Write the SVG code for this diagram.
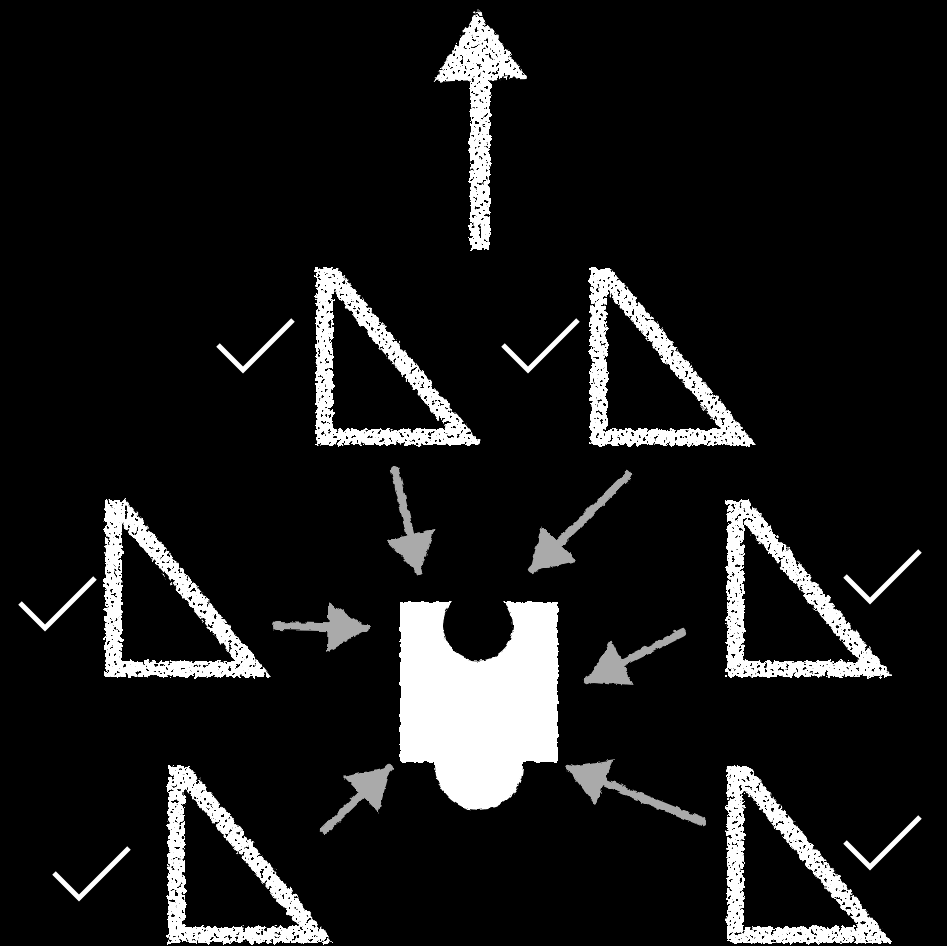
<svg xmlns="http://www.w3.org/2000/svg" xmlns:xlink="http://www.w3.org/1999/xlink" width="947" height="946" viewBox="0 0 947 946">
  <style>
    .chalk { fill: #ffffff; fill-rule: evenodd; }
    .check { fill: none; stroke: #ffffff; stroke-width: 5; stroke-linecap: butt; stroke-linejoin: miter; }
    .conn { stroke: #aaaaaa; stroke-width: 8; stroke-linecap: round; fill: none; }
  </style>
  <defs>
    <filter id="rough" x="-10%" y="-10%" width="120%" height="120%">
      <feTurbulence type="fractalNoise" baseFrequency="0.18" numOctaves="2" seed="3" result="n"/>
      <feDisplacementMap in="SourceGraphic" in2="n" scale="7" xChannelSelector="R" yChannelSelector="G" result="d"/>
      <feTurbulence type="fractalNoise" baseFrequency="0.28" numOctaves="2" seed="9" result="n2"/>
      <feColorMatrix in="n2" type="matrix" values="0 0 0 0 0  0 0 0 0 0  0 0 0 0 0  -20 0 0 0 13.6" result="mask"/>
      <feComposite in="d" in2="mask" operator="in"/>
    </filter>
    <filter id="soft" x="-10%" y="-10%" width="120%" height="120%">
      <feTurbulence type="fractalNoise" baseFrequency="0.15" numOctaves="2" seed="5" result="n"/>
      <feDisplacementMap in="SourceGraphic" in2="n" scale="5" xChannelSelector="R" yChannelSelector="G"/>
    </filter>
    <path id="tri" class="chalk" d="M0,0 L21,0 L166,177 L0,177 Z M17,23 L17,161 L131,161 Z"/>
    <polyline id="tick" class="check" points="0,25 25,50 75,0"/>
    <marker id="head" markerUnits="userSpaceOnUse" markerWidth="42" markerHeight="50" viewBox="0 0 40 48" refX="37" refY="24" orient="auto">
      <path d="M0,0 L40,24 L0,48 Z" fill="#aaaaaa"/>
    </marker>
  </defs>

  <rect x="0" y="0" width="947" height="946" fill="#000000"/>

  <g id="up-arrow" filter="url(#rough)">
    <polygon class="chalk" points="478,10 527,78 432,82"/>
    <rect class="chalk" x="470" y="74" width="20" height="176"/>
  </g>

  <g id="triangle-1" filter="url(#rough)"><use xlink:href="#tri" href="#tri" transform="translate(316,268)"/></g>
  <g id="triangle-2" filter="url(#rough)"><use xlink:href="#tri" href="#tri" transform="translate(590,268)"/></g>
  <g id="triangle-3" filter="url(#rough)"><use xlink:href="#tri" href="#tri" transform="translate(105,500)"/></g>
  <g id="triangle-4" filter="url(#rough)"><use xlink:href="#tri" href="#tri" transform="translate(727,500)"/></g>
  <g id="triangle-5" filter="url(#rough)"><use xlink:href="#tri" href="#tri" transform="translate(168,766)"/></g>
  <g id="triangle-6" filter="url(#rough)"><use xlink:href="#tri" href="#tri" transform="translate(727,766)"/></g>

  <g id="check-1"><use xlink:href="#tick" href="#tick" transform="translate(218,320)"/></g>
  <g id="check-2"><use xlink:href="#tick" href="#tick" transform="translate(503,320)"/></g>
  <g id="check-3"><use xlink:href="#tick" href="#tick" transform="translate(20,578)"/></g>
  <g id="check-4"><use xlink:href="#tick" href="#tick" transform="translate(845,551)"/></g>
  <g id="check-5"><use xlink:href="#tick" href="#tick" transform="translate(54,848)"/></g>
  <g id="check-6"><use xlink:href="#tick" href="#tick" transform="translate(845,817)"/></g>

  <g id="center-piece" filter="url(#soft)">
    <path class="chalk" d="M400,602 H452 A35,35 0 1 0 504,602 H558 V762 H523 V766 A44,44 0 0 1 435,766 V762 H400 Z"/>
  </g>

  <g id="connectors" filter="url(#soft)">
    <line class="conn" x1="395" y1="470" x2="419" y2="572" marker-end="url(#head)"/>
    <line class="conn" x1="628" y1="475" x2="532" y2="570" marker-end="url(#head)"/>
    <line class="conn" x1="277" y1="626" x2="366" y2="628" marker-end="url(#head)"/>
    <line class="conn" x1="682" y1="633" x2="588" y2="680" marker-end="url(#head)"/>
    <line class="conn" x1="325" y1="830" x2="389" y2="768" marker-end="url(#head)"/>
    <line class="conn" x1="702" y1="822" x2="569" y2="768" marker-end="url(#head)"/>
  </g>
</svg>
